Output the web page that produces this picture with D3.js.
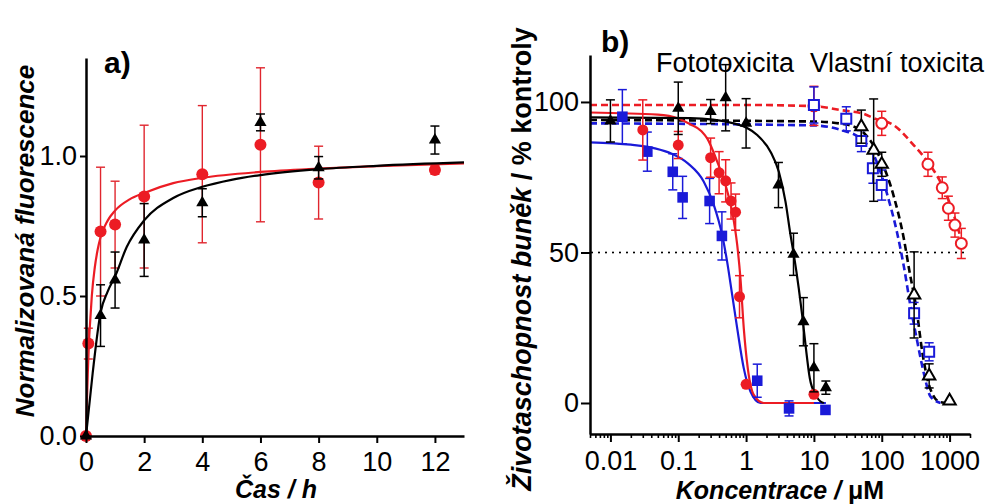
<!DOCTYPE html>
<html>
<head>
  <script src="https://d3js.org/d3.v7.min.js"></script>
  <style>
    body { margin: 0; background: white; }
    svg { display: block; background: white; font-family: "Liberation Sans", Arial, sans-serif; }
    .axis path, .axis line { stroke: #000; }
    .axis text { font-size: 27px; fill: #000; font-family: "Liberation Sans", Arial, sans-serif; }
  </style>
</head>
<body>
<script>
// ---------- panel a: time course ----------
const xTicksA = [0, 2, 4, 6, 8, 10, 12];
const yTicksA = [0, 0.5, 1.0];

const redTimeA = [0, 0.08, 0.5, 1, 2, 4, 6, 8, 12];
const redValA  = [0, 0.33, 0.73, 0.755, 0.855, 0.935, 1.04, 0.905, 0.95];
const redErrA  = [0, 0.055, 0.23, 0.155, 0.255, 0.245, 0.275, 0.13, 0.015];

const blackTimeA = [0, 0.5, 1, 2, 4, 6, 8, 12];
const blackValA  = [0, 0.43, 0.557, 0.70, 0.833, 1.12, 0.958, 1.057];
const blackErrA  = [0, 0.11, 0.1, 0.13, 0.05, 0.03, 0.04, 0.05];

// fitted curves
const redFitTA = [0, 0.03, 0.06, 0.1, 0.15, 0.2, 0.3, 0.4, 0.5, 0.75, 1, 1.5, 2, 3, 4, 6, 8, 10, 13];
const redFitYA = [0, 0.12, 0.22, 0.33, 0.42, 0.5, 0.6, 0.665, 0.71, 0.77, 0.805, 0.845, 0.868, 0.903, 0.922, 0.943, 0.955, 0.964, 0.974];
const blackFitTA = [0, 0.23, 0.5, 0.74, 1, 1.4, 2, 3, 4, 5, 6, 8, 10, 13];
const blackFitYA = [0, 0.225, 0.44, 0.515, 0.57, 0.675, 0.77, 0.85, 0.89, 0.915, 0.932, 0.953, 0.965, 0.977];

// ---------- panel b: dose response ----------
const xTicksB = [0.01, 0.1, 1, 10, 100, 1000];
const xTickLabelsB = ["0.01", "0.1", "1", "10", "100", "1000"];
const yTicksB = [0, 50, 100];

// Fototoxicita (filled)
const photoBlackConc = [0.01, 0.1, 0.3, 0.5, 1, 3, 5, 7, 10, 15];
const photoBlackVal  = [93.7, 97.9, 96.8, 101.4, 92.9, 72.4, 49.4, 27, 11.7, 5.1];
const photoBlackErr  = [7, 8.7, 4, 11, 8.2, 7.5, 7, 8, 8, 2.2];

const photoRedConc = [0.03, 0.1, 0.3, 0.4, 0.5, 0.6, 0.7, 0.8, 1, 10];
const photoRedVal  = [90.7, 85.7, 81.5, 76.5, 73.8, 67.1, 63.4, 35.3, 6.2, 2.9];
const photoRedErr  = [10, 4.5, 6.5, 7, 7, 6, 6, 7, 0, 0];

const photoBlueConc = [0.015, 0.035, 0.083, 0.116, 0.29, 0.44, 1.46, 4.3, 14.8];
const photoBlueVal  = [95.1, 83.5, 76.8, 68.3, 67.1, 55.5, 7.4, -1.8, -2.3];
const photoBlueErr  = [9, 6.5, 6, 7, 7.5, 8, 5.5, 2.5, 0];

// Vlastní toxicita (open)
const darkRedConc = [10, 100, 480, 780, 960, 1200, 1490];
const darkRedVal  = [98.7, 92.9, 79.3, 71.5, 64.7, 59.1, 53];
const darkRedErr  = [6.5, 4, 4, 3.6, 4, 4, 5];

const darkBlackConc = [50, 76, 100, 300, 500, 1000];
const darkBlackVal  = [91.8, 84, 79.3, 35.9, 9, 0.7];
const darkBlackErr  = [5.5, 17, 4, 14.3, 4, 0];

const darkBlueConc = [10, 30, 50, 74, 100, 300, 500];
const darkBlueVal  = [99, 94.4, 87, 78, 72.4, 29.8, 17];
const darkBlueErr  = [6, 4, 3.5, 5, 5, 3.6, 3];

// fitted curves
const photoBlackFitC = [0.005, 0.15, 0.66, 1.46, 2.29, 3.04, 3.81, 4.52, 5.06, 5.98, 6.71, 7.52, 8.7, 10.6, 13.2, 14];
const photoBlackFitV = [94.9, 94.6, 92.9, 89, 83.5, 76.8, 66.9, 55.8, 49.2, 38.1, 29.2, 19.3, 8.2, 2.7, 0.2, 0];
const photoRedFitC = [0.005, 0.05, 0.1, 0.15, 0.22, 0.267, 0.375, 0.497, 0.623, 0.74, 0.826, 0.925, 1.06, 1.3, 1.82, 10];
const photoRedFitV = [96.5, 95.8, 94.5, 92.6, 90.3, 87.9, 80.2, 72.4, 63.6, 52.5, 41.4, 24.8, 11.5, 2.7, 0, 0];
const photoBlueFitC = [0.005, 0.02, 0.045, 0.08, 0.14, 0.238, 0.334, 0.444, 0.526, 0.624, 0.74, 0.925, 1.16, 1.63, 15];
const photoBlueFitV = [86.6, 85.8, 84.6, 82.8, 79.5, 73.5, 65.8, 55.8, 46.9, 35.9, 24.8, 11.5, 3.8, 0, 0];

const darkRedFitC = [0.005, 1, 10, 25, 55, 76, 150, 300, 480, 750, 1000, 1250, 1540];
const darkRedFitV = [99, 99, 98.6, 97.3, 96, 94.6, 92.3, 85.5, 80, 73, 66.5, 60, 53];
const darkBlackFitC = [0.005, 10, 30, 55, 96, 151, 212, 255, 325, 400, 510, 720, 977];
const darkBlackFitV = [94, 93.5, 92.5, 89.6, 81, 68.5, 54.5, 44, 31.2, 16.3, 5.2, 0.3, 0];
const darkBlueFitC = [0.005, 10, 25, 48.6, 76, 100, 120, 169, 212, 266, 334, 417, 525, 736];
const darkBlueFitV = [92.9, 92.2, 90.7, 87.9, 82.4, 75.5, 69.4, 56.4, 45.3, 32, 20.4, 9.9, 2.1, 0];

const RED = "#ec1c24", BLUE = "#1a1ad8", BLACK = "#000";

const svg = d3.select("body").append("svg").attr("width", 989).attr("height", 504);

const zip = (xs, ys, es) => xs.map((x, i) => ({ x, y: ys[i], e: es ? es[i] : 0 }));

function errorBars(g, pts, x, y, color, cap, sw) {
  const eb = g.append("g").attr("stroke", color).attr("stroke-width", sw).attr("fill", "none");
  pts.filter(d => d.e > 0).forEach(d => {
    const cx = x(d.x), y1 = y(d.y + d.e), y2 = y(d.y - d.e);
    eb.append("line").attr("x1", cx).attr("x2", cx).attr("y1", y1).attr("y2", y2);
    eb.append("line").attr("x1", cx - cap).attr("x2", cx + cap).attr("y1", y1).attr("y2", y1);
    eb.append("line").attr("x1", cx - cap).attr("x2", cx + cap).attr("y1", y2).attr("y2", y2);
  });
}

function markers(g, pts, x, y, type, size, color, open) {
  g.append("g").selectAll("path").data(pts).join("path")
    .attr("d", d3.symbol(type, size))
    .attr("transform", d => `translate(${x(d.x)},${y(d.y)})`)
    .attr("fill", open ? "white" : color)
    .attr("stroke", open ? color : "none")
    .attr("stroke-width", open ? 2 : 0);
}

function curve(g, xs, ys, x, y, color, sw, dash) {
  const line = d3.line().x(d => x(d.x)).y(d => y(d.y)).curve(d3.curveMonotoneX);
  g.append("path").datum(zip(xs, ys))
    .attr("d", line).attr("fill", "none")
    .attr("stroke", color).attr("stroke-width", sw)
    .attr("stroke-dasharray", dash || null);
}

// ===== panel a =====
const xA = d3.scaleLinear().domain([0, 13]).range([86, 464]);
const yA = d3.scaleLinear().domain([0, 1.35]).range([436, 58]);
const gA = svg.append("g");

curve(gA, redFitTA, redFitYA, xA, yA, RED, 2.2);
const redPtsA = zip(redTimeA, redValA, redErrA);
errorBars(gA, redPtsA, xA, yA, "#e0262e", 4.5, 1.4);
markers(gA, redPtsA, xA, yA, d3.symbolCircle, Math.PI * 36, RED, false);

curve(gA, blackFitTA, blackFitYA, xA, yA, BLACK, 2.2);
const blackPtsA = zip(blackTimeA, blackValA, blackErrA);
errorBars(gA, blackPtsA, xA, yA, BLACK, 4.5, 1.5);
markers(gA, blackPtsA, xA, yA, d3.symbolTriangle, 64, BLACK, false);

gA.append("g").attr("class", "axis").attr("transform", "translate(0,436)")
  .call(d3.axisBottom(xA).tickValues(xTicksA).tickSize(7).tickSizeOuter(0).tickPadding(9).tickFormat(d3.format("d")))
  .call(g => g.select(".domain").attr("stroke-width", 2.5))
  .call(g => g.selectAll(".tick line").attr("stroke-width", 2))
  .call(g => g.selectAll(".tick text").attr("font-size", 26));
gA.append("g").attr("class", "axis").attr("transform", "translate(86,0)")
  .call(d3.axisLeft(yA).tickValues(yTicksA).tickSize(6).tickSizeOuter(0).tickPadding(3).tickFormat(d3.format(".1f")))
  .call(g => g.select(".domain").attr("stroke-width", 2.5))
  .call(g => g.selectAll(".tick line").attr("stroke-width", 2));

svg.append("text").attr("x", 104).attr("y", 73)
  .attr("font-size", 30).attr("font-weight", "bold").text("a)");
svg.append("text").attr("transform", "translate(34,241) rotate(-90)")
  .attr("text-anchor", "middle").attr("font-size", 26).attr("font-weight", "bold").attr("font-style", "italic")
  .text("Normalizovaná fluorescence");
svg.append("text").attr("x", 276).attr("y", 498)
  .attr("text-anchor", "middle").attr("font-size", 25).attr("font-weight", "bold").attr("font-style", "italic")
  .text("Čas / h");

// ===== panel b =====
const xB = d3.scaleLog().domain([0.005, 2000]).range([590, 970]);
const yB = d3.scaleLinear().domain([-10.3, 115.6]).range([434, 55]);
const gB = svg.append("g");

// 50 % reference line
gB.append("line").attr("x1", 592).attr("x2", 970).attr("y1", yB(50)).attr("y2", yB(50))
  .attr("stroke", BLACK).attr("stroke-width", 2.2).attr("stroke-linecap", "round")
  .attr("stroke-dasharray", "0,7");

// dashed fits (dark toxicity)
curve(gB, darkBlackFitC, darkBlackFitV, xB, yB, BLACK, 2.6, "7,4");
curve(gB, darkBlueFitC, darkBlueFitV, xB, yB, BLUE, 2.6, "7,4");
curve(gB, darkRedFitC, darkRedFitV, xB, yB, RED, 2.6, "7,4");
// solid fits (phototoxicity)
curve(gB, photoBlueFitC, photoBlueFitV, xB, yB, BLUE, 2.2);
curve(gB, photoRedFitC, photoRedFitV, xB, yB, RED, 2.2);
curve(gB, photoBlackFitC, photoBlackFitV, xB, yB, BLACK, 2.2);

const series = [
  [darkRedConc, darkRedVal, darkRedErr, RED, d3.symbolCircle, Math.PI * 30, true],
  [darkBlueConc, darkBlueVal, darkBlueErr, BLUE, d3.symbolSquare, 100, true],
  [darkBlackConc, darkBlackVal, darkBlackErr, BLACK, d3.symbolTriangle, 66, true],
  [photoBlueConc, photoBlueVal, photoBlueErr, BLUE, d3.symbolSquare, 112, false],
  [photoRedConc, photoRedVal, photoRedErr, RED, d3.symbolCircle, Math.PI * 30, false],
  [photoBlackConc, photoBlackVal, photoBlackErr, BLACK, d3.symbolTriangle, 64, false]
];
series.forEach(([c, v, e, col, sym, size, open]) => {
  const pts = zip(c, v, e);
  errorBars(gB, pts, xB, yB, col, 4.5, 1.5);
  markers(gB, pts, xB, yB, sym, size, col, open);
});

// minor ticks on the log axis
const minorB = [];
for (let p = -3; p <= 3; p++) for (let m = 2; m <= 9; m++) {
  const v = m * Math.pow(10, p);
  if (v >= 0.005 && v <= 2000) minorB.push(v);
}
gB.append("g").attr("class", "axis").attr("transform", "translate(0,434)")
  .call(d3.axisBottom(xB).tickValues(minorB).tickSize(4).tickSizeOuter(0).tickFormat(""))
  .call(g => g.select(".domain").remove())
  .call(g => g.selectAll(".tick text").remove())
  .call(g => g.selectAll(".tick line").attr("stroke-width", 1.6));
gB.append("g").attr("class", "axis").attr("transform", "translate(0,434)")
  .call(d3.axisBottom(xB).tickValues(xTicksB).tickSize(8).tickSizeOuter(0).tickPadding(9)
    .tickFormat((d, i) => xTickLabelsB[i]))
  .call(g => g.select(".domain").attr("stroke-width", 2.5))
  .call(g => g.selectAll(".tick line").attr("stroke-width", 2))
  .call(g => g.selectAll(".tick text").attr("font-size", 26));
gB.append("g").attr("class", "axis").attr("transform", "translate(590,0)")
  .call(d3.axisLeft(yB).tickValues(yTicksB).tickSize(9).tickSizeOuter(0).tickPadding(2).tickFormat(d3.format("d")))
  .call(g => g.select(".domain").attr("stroke-width", 2.5))
  .call(g => g.selectAll(".tick line").attr("stroke-width", 2));

svg.append("text").attr("x", 601).attr("y", 52)
  .attr("font-size", 30).attr("font-weight", "bold").text("b)");
svg.append("text").attr("x", 656).attr("y", 72).attr("font-size", 27).text("Fototoxicita");
svg.append("text").attr("x", 810).attr("y", 72).attr("font-size", 27).text("Vlastní toxicita");

const ylabB = svg.append("text").attr("transform", "translate(531,259) rotate(-90)")
  .attr("text-anchor", "middle").attr("font-size", 27).attr("font-weight", "bold");
ylabB.append("tspan").attr("font-style", "italic").text("Životaschopnost buněk");
ylabB.append("tspan").text(" / % kontroly");

const xlabB = svg.append("text").attr("x", 780).attr("y", 499)
  .attr("text-anchor", "middle").attr("font-size", 25).attr("font-weight", "bold");
xlabB.append("tspan").attr("font-style", "italic").text("Koncentrace / ");
xlabB.append("tspan").text("μM");
</script>
</body>
</html>
